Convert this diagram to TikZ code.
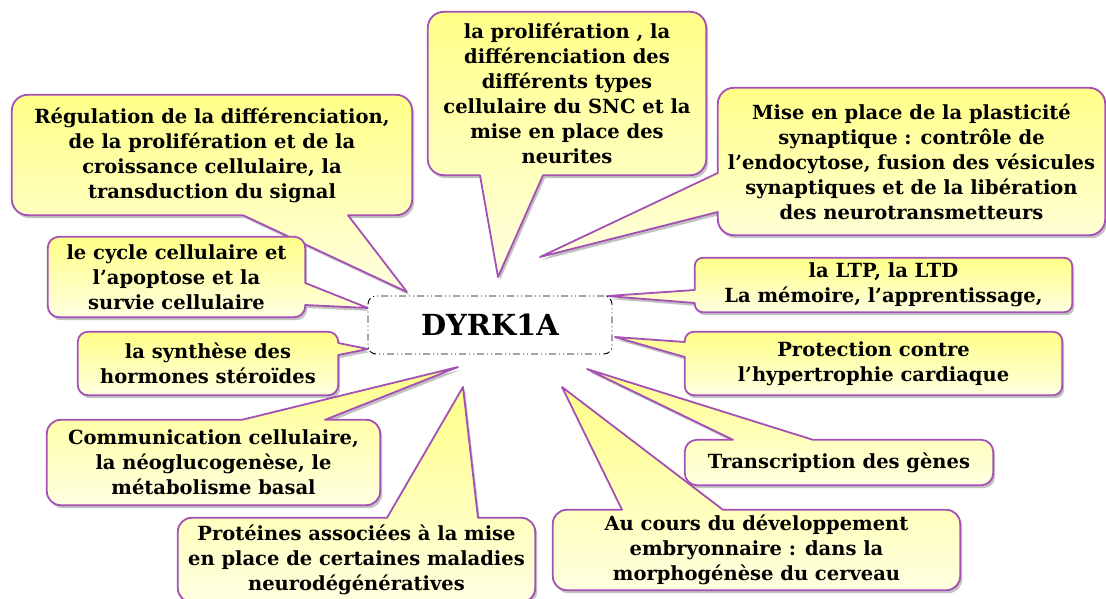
\documentclass[tikz,border=0pt]{standalone}
\usepackage{fontspec}
\setmainfont{DejaVu Serif}
\usetikzlibrary{calc}
\usetikzlibrary{shadows}
\usetikzlibrary{backgrounds}

\definecolor{bordpurple}{RGB}{165,80,180}
\definecolor{calltop}{RGB}{255,255,135}
\definecolor{callbot}{RGB}{255,255,225}

\tikzset{
	callout/.style={draw=bordpurple, line width=1.8pt, line join=round,
		top color=calltop, bottom color=callbot,
		drop shadow={shadow xshift=2pt, shadow yshift=-3pt, fill=black!60, opacity=.4}},
	txt/.style={inner sep=0pt, align=center, font=\fontsize{19.5}{25}\selectfont\bfseries},
	mainbox/.style={draw, fill=white, rounded corners=8pt, line width=.9pt,
		dash pattern=on 7pt off 3pt on 1pt off 3pt on 1pt off 3pt,
		minimum width=244pt, minimum height=58pt, font=\fontsize{29}{32}\selectfont\bfseries}
}

\begin{document}
\begin{tikzpicture}[x=1pt, y=-1pt]
			\useasboundingbox (0,0) rectangle (1106,598);
			
			%tips of the pointers
			\coordinate (treg)    at (407,292);
			\coordinate (tprol)   at (498,277);
			\coordinate (tplast)  at (540,257);
			\coordinate (tcycle)  at (368,308);
			\coordinate (tsynth)  at (368,349);
			\coordinate (tcomm)   at (458,367);
			\coordinate (tprot)   at (463,387);
			\coordinate (tcours)  at (562,387);
			\coordinate (ttrans)  at (587,369);
			\coordinate (tprotec) at (615,337);
			\coordinate (tltp)    at (607,296);
			
			%nodes
			\node[txt, minimum width=400pt, minimum height=120pt] (reg) at (212,155) {R\'egulation de la diff\'erenciation,\\ de la prolif\'eration et de la\\ croissance cellulaire, la\\ transduction du signal};
			\node[txt, minimum width=278pt, minimum height=163pt] (prol) at (567,93.5) {la prolif\'eration , la\\ diff\'erenciation des\\ diff\'erents types\\ cellulaire du SNC et la\\ mise en place des\\ neurites};
			\node[txt, minimum width=387pt, minimum height=147pt] (plast) at (911.5,161.5) {Mise en place de la plasticit\'e\\ synaptique : contr\^ole de\\ l’endocytose, fusion des v\'esicules\\ synaptiques et de la lib\'eration\\ des neurotransmetteurs};
			\node[txt, minimum width=257pt, minimum height=80pt] (cycle) at (176.5,277) {le cycle cellulaire et\\ l’apoptose et la\\ survie cellulaire};
			\node[txt, minimum width=260pt, minimum height=63pt] (synth) at (208,363.5) {la synth\`ese des\\ hormones st\'ero\"ides};
			\node[txt, minimum width=333pt, minimum height=85pt] (comm) at (213.5,462.5) {Communication cellulaire,\\ la n\'eoglucogen\`ese, le\\ m\'etabolisme basal};
			\node[txt, minimum width=357pt, minimum height=84pt] (prot) at (356.5,560) {Prot\'eines associ\'ees \`a la mise\\ en place de certaines maladies\\ neurod\'eg\'en\'eratives};
			\node[txt, minimum width=407pt, minimum height=80pt] (cours) at (756.5,550) {Au cours du d\'eveloppement\\ embryonnaire : dans la\\ morphog\'en\`ese du cerveau};
			\node[txt, minimum width=308pt, minimum height=45pt] (trans) at (839,462.5) {Transcription des g\`enes};
			\node[txt, minimum width=377pt, minimum height=63pt] (protec) at (873.5,363.5) {Protection contre\\ l’hypertrophie cardiaque};
			\node[txt, minimum width=377pt, minimum height=54pt] (ltp) at (883.5,285) {la LTP, la LTD\\ La m\'emoire, l’apprentissage,};
			
			\node[mainbox] (dyrk) at (490,325) {DYRK1A};
			
			%callout shapes
			\begin{scope}[on background layer]
			\draw[callout] (reg.south -| 243,0) [rounded corners=16pt] -- (reg.south west) -- (reg.north west) -- (reg.north east) -- (reg.south east) [sharp corners] -- (reg.south -| 348,0) -- (treg) -- cycle;
			\draw[callout] (prol.south -| 480,0) [rounded corners=16pt] -- (prol.south west) -- (prol.north west) -- (prol.north east) -- (prol.south east) [sharp corners] -- (prol.south -| 543,0) -- (tprol) -- cycle;
			\draw[callout] (plast.west |- 0,173) [rounded corners=16pt] -- (plast.north west) -- (plast.north east) -- (plast.south east) -- (plast.south west) [sharp corners] -- (plast.west |- 0,212) -- (tplast) -- cycle;
			\draw[callout] (cycle.east |- 0,283) [rounded corners=11pt] -- (cycle.north east) -- (cycle.north west) -- (cycle.south west) -- (cycle.south east) [sharp corners] -- (cycle.east |- 0,305) -- (tcycle) -- cycle;
			\draw[callout] (synth.east |- 0,343) [rounded corners=10pt] -- (synth.north east) -- (synth.north west) -- (synth.south west) -- (synth.south east) [sharp corners] -- (synth.east |- 0,355) -- (tsynth) -- cycle;
			\draw[callout] (comm.north -| 242,0) [rounded corners=14pt] -- (comm.north west) -- (comm.south west) -- (comm.south east) -- (comm.north east) [sharp corners] -- (comm.north -| 325,0) -- (tcomm) -- cycle;
			\draw[callout] (prot.north -| 387,0) [rounded corners=14pt] -- (prot.north west) -- (prot.south west) -- (prot.south east) -- (prot.north east) [sharp corners] -- (prot.north -| 478,0) -- (tprot) -- cycle;
			\draw[callout] (cours.north -| 622,0) [rounded corners=14pt] -- (cours.north west) -- (cours.south west) -- (cours.south east) -- (cours.north east) [sharp corners] -- (cours.north -| 723,0) -- (tcours) -- cycle;
			\draw[callout] (trans.north -| 733,0) [rounded corners=12pt] -- (trans.north west) -- (trans.south west) -- (trans.south east) -- (trans.north east) [sharp corners] -- (trans.north -| 813,0) -- (ttrans) -- cycle;
			\draw[callout] (protec.west |- 0,342) [rounded corners=9pt] -- (protec.north west) -- (protec.north east) -- (protec.south east) -- (protec.south west) [sharp corners] -- (protec.west |- 0,357) -- (tprotec) -- cycle;
			\draw[callout] (ltp.west |- 0,290) [rounded corners=8pt] -- (ltp.north west) -- (ltp.north east) -- (ltp.south east) -- (ltp.south west) [sharp corners] -- (ltp.west |- 0,303) -- (tltp) -- cycle;
			\end{scope}
\end{tikzpicture}
\end{document}
